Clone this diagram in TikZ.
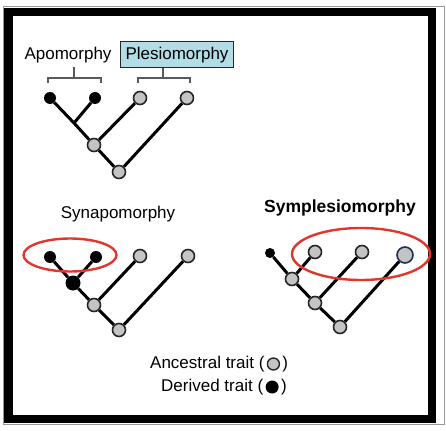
\documentclass[tikz,border=0pt]{standalone}
\usepackage{fontspec}
\setmainfont{Liberation Sans}
\usetikzlibrary{positioning}
\definecolor{trait}{HTML}{C4C4C4}
\definecolor{ringred}{HTML}{E2352B}
\definecolor{boxblue}{HTML}{B2DCE6}
\definecolor{navy}{HTML}{1F2F4F}
\tikzstyle{anc} = [circle, draw=black!85, fill=trait, line width=1.6pt,
    inner sep=0pt, minimum size=13pt]
\tikzstyle{der} = [circle, fill=black, inner sep=0pt, minimum size=12pt]
\tikzstyle{branch} = [draw, line width=3pt]
\tikzstyle{ring} = [draw=ringred, line width=2.4pt]
\tikzstyle{brace} = [draw=black!65, line width=1.5pt]
\tikzstyle{label} = [font=\fontsize{17}{20}\selectfont, inner sep=1pt]

\begin{document}
\begin{tikzpicture}[x=1pt, y=-1pt, node distance=1pt]
  \useasboundingbox (0,0) rectangle (446,430);
  % frame
  \draw [black!40, line width=0.8pt] (3,6.5) rectangle (444,424.5);
  \draw [line width=8.5pt] (8.5,12) rectangle (432,419);

  % top tree
  \node [label] (apo) at (68,55) {Apomorphy};
  \node [label, draw=black!85, line width=1pt, fill=boxblue,
         minimum width=113pt, minimum height=26pt] (ple) at (177,55) {Plesiomorphy};
  \coordinate (apb) at (74,78);
  \coordinate (pleb) at (163,78);
  \path [brace] (48,83) -- (48,78) -- (101,78) -- (101,83);
  \path [brace] (apb) -- (74,67);
  \path [brace] (138,83) -- (138,78) -- (190,78) -- (190,83);
  \path [brace] (pleb) -- (pleb |- ple.south);

  \node [der] (a1) at (50,98) {};
  \node [der] (a2) at (95,98) {};
  \node [anc] (a3) at (140,98) {};
  \node [anc] (a4) at (187,98) {};
  \coordinate (aj) at (74,123);
  \node [anc] (ai) at (94,145) {};
  \node [anc] (ar) at (119,172) {};
  \path [branch] (a1) -- (aj) -- (ai);
  \path [branch] (a2) -- (aj);
  \path [branch] (a3) -- (ai);
  \path [branch] (ai) -- (ar);
  \path [branch] (a4) -- (ar);

  % synapomorphy
  \node [label] (syn) at (118,214) {Synapomorphy};
  \node [der] (s1) at (50,257) {};
  \node [der] (s2) at (96,257) {};
  \node [anc] (s3) at (140,256) {};
  \node [anc] (s4) at (188,256) {};
  \node [der, minimum size=15pt] (sj) at (73,283) {};
  \node [anc] (si) at (94,305) {};
  \node [anc] (sr) at (119,330) {};
  \path [branch] (s1) -- (sj) -- (si) -- (sr);
  \path [branch] (s2) -- (sj);
  \path [branch] (s3) -- (si);
  \path [branch] (s4) -- (sr);
  \draw [ring] (70,255) ellipse (46.5pt and 16.5pt);

  % symplesiomorphy
  \node [label, font=\bfseries\fontsize{17.5}{20}\selectfont] (sym) at (340,208) {Symplesiomorphy};
  \node [der, minimum size=10pt] (p1) at (270,253) {};
  \node [anc] (p2) at (315,252) {};
  \node [anc] (p3) at (362,252) {};
  \node [anc, draw=navy, minimum size=16pt] (p4) at (405,255) {};
  \node [anc] (pa) at (292,279) {};
  \node [anc] (pb) at (315,303) {};
  \node [anc] (pr) at (340,327) {};
  \path [branch] (p1) -- (pa) -- (pb) -- (pr);
  \path [branch] (p2) -- (pa);
  \path [branch] (p3) -- (pb);
  \path [branch] (p4) -- (pr);
  \draw [ring] (361,254) ellipse (69pt and 26pt);

  % legend
  \node [label, anchor=west] (anctxt) at (149,364) {Ancestral trait (};
  \node [anc, minimum size=12pt, line width=1.4pt, right=1pt of anctxt] (ancdot) {};
  \node [label, right=1pt of ancdot] (ancend) {)};
  \node [label, anchor=west] (dertxt) at (160,387) {Derived trait (};
  \node [der, minimum size=13pt, right=1pt of dertxt] (derdot) {};
  \node [label, right=1pt of derdot] (derend) {)};
\end{tikzpicture}
\end{document}
